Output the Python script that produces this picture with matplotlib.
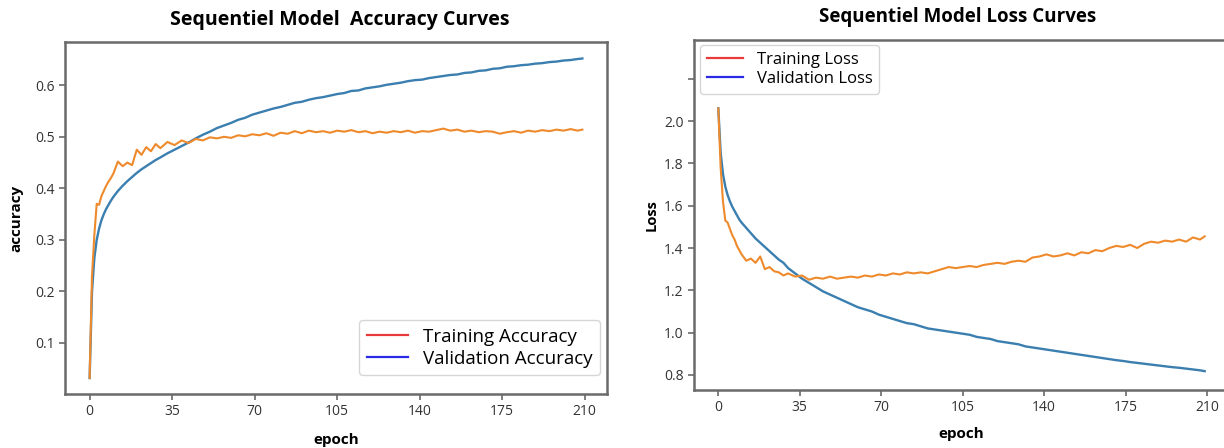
import matplotlib
matplotlib.use("Agg")
import matplotlib.pyplot as plt
from matplotlib.lines import Line2D

plt.rcParams['font.family'] = ['Open Sans', 'DejaVu Sans']

epochs = [0, 1, 2, 3, 4, 5, 6, 7, 8, 9, 10,
          12, 14, 16, 18, 20, 22, 24, 26, 28,
          30, 33, 36, 39, 42, 45, 48, 51, 54, 57, 60, 63, 66, 69, 72, 75, 78, 81, 84, 87,
          90, 93, 96, 99, 102, 105, 108, 111, 114, 117, 120, 123, 126, 129, 132, 135, 138,
          141, 144, 147, 150, 153, 156, 159, 162, 165, 168, 171, 174, 177, 180, 183, 186,
          189, 192, 195, 198, 201, 204, 207, 209]

acc_blue = [0.032, 0.20, 0.265, 0.300, 0.322, 0.338, 0.350, 0.360, 0.368, 0.376, 0.383,
            0.395, 0.405, 0.414, 0.422, 0.430, 0.437, 0.443, 0.449, 0.455,
            0.460, 0.468, 0.475, 0.482, 0.489, 0.497, 0.504, 0.510, 0.517, 0.522, 0.527,
            0.533, 0.537, 0.543, 0.547, 0.551, 0.555, 0.558, 0.562, 0.566, 0.568, 0.572,
            0.575, 0.577, 0.580, 0.583, 0.585, 0.589, 0.590, 0.594, 0.596, 0.598, 0.601,
            0.603, 0.605, 0.608, 0.610, 0.611, 0.614, 0.616, 0.618, 0.620, 0.621, 0.624,
            0.625, 0.628, 0.629, 0.632, 0.633, 0.636, 0.637, 0.639, 0.640, 0.642, 0.643,
            0.645, 0.646, 0.648, 0.649, 0.651, 0.652]

acc_orange = [0.032, 0.23, 0.31, 0.37, 0.368, 0.385, 0.395, 0.405, 0.413, 0.42, 0.428,
              0.452, 0.443, 0.450, 0.445, 0.475, 0.465, 0.480, 0.472, 0.486,
              0.478, 0.490, 0.484, 0.493, 0.488, 0.496, 0.493, 0.499, 0.497, 0.500, 0.498,
              0.503, 0.501, 0.505, 0.503, 0.507, 0.502, 0.508, 0.506, 0.511, 0.507, 0.512,
              0.509, 0.511, 0.508, 0.512, 0.510, 0.513, 0.509, 0.511, 0.507, 0.510, 0.508,
              0.511, 0.509, 0.512, 0.508, 0.511, 0.510, 0.513, 0.516, 0.512, 0.514, 0.510,
              0.512, 0.509, 0.511, 0.510, 0.506, 0.509, 0.511, 0.508, 0.512, 0.510, 0.513,
              0.511, 0.514, 0.512, 0.515, 0.512, 0.514]

loss_blue = [2.06, 1.85, 1.75, 1.69, 1.65, 1.62, 1.595, 1.575, 1.555, 1.535, 1.52,
             1.495, 1.47, 1.445, 1.425, 1.405, 1.385, 1.365, 1.345, 1.33,
             1.305, 1.28, 1.255, 1.235, 1.215, 1.195, 1.18, 1.165, 1.15, 1.135, 1.12,
             1.11, 1.10, 1.085, 1.075, 1.065, 1.055, 1.045, 1.04, 1.03, 1.02, 1.015,
             1.01, 1.005, 1.0, 0.995, 0.99, 0.98, 0.975, 0.97, 0.96, 0.955, 0.95,
             0.945, 0.935, 0.93, 0.925, 0.92, 0.915, 0.91, 0.905, 0.90, 0.895, 0.89,
             0.885, 0.88, 0.875, 0.87, 0.866, 0.861, 0.857, 0.853, 0.849, 0.845, 0.841,
             0.837, 0.834, 0.830, 0.826, 0.822, 0.818]

loss_orange = [2.06, 1.78, 1.62, 1.53, 1.52, 1.49, 1.46, 1.44, 1.41, 1.39, 1.37,
               1.34, 1.35, 1.33, 1.36, 1.30, 1.31, 1.29, 1.285, 1.27,
               1.28, 1.265, 1.27, 1.25, 1.26, 1.255, 1.265, 1.255, 1.26, 1.265, 1.26,
               1.27, 1.265, 1.275, 1.27, 1.28, 1.275, 1.285, 1.28, 1.285, 1.28, 1.29,
               1.30, 1.31, 1.305, 1.31, 1.315, 1.31, 1.32, 1.325, 1.33, 1.325, 1.335,
               1.34, 1.335, 1.355, 1.36, 1.37, 1.36, 1.365, 1.375, 1.365, 1.38, 1.375,
               1.39, 1.385, 1.40, 1.41, 1.405, 1.415, 1.40, 1.42, 1.43, 1.425, 1.435,
               1.43, 1.44, 1.43, 1.45, 1.44, 1.455]

xticks = [0, 35, 70, 105, 140, 175, 210]
acc_yticks = [0.1, 0.2, 0.3, 0.4, 0.5, 0.6]
loss_yticks = [0.8, 1.0, 1.2, 1.4, 1.6, 1.8, 2.0, 2.2]
loss_ytick_labels = ['0.8', '1.0', '1.2', '1.4', '1.6', '1.8', '2.0', '']

BLUE = '#3a7fb0'
ORANGE = '#ee8a2c'
SPINE = '#6a6a6a'

fig = plt.figure(figsize=(12.24, 4.48), dpi=100)
ax1 = fig.add_axes([65 / 1224, 1 - 394 / 448, 542 / 1224, 352 / 448])
ax2 = fig.add_axes([694 / 1224, 1 - 390 / 448, 535 / 1224, 350 / 448])


def style(ax):
    for s in ax.spines.values():
        s.set_color(SPINE)
        s.set_linewidth(1.8)
    ax.tick_params(colors=SPINE, labelcolor='#333333', labelsize=10, length=4, width=1.2)


ax1.plot(epochs, acc_blue, color=BLUE, lw=1.7)
ax1.plot(epochs, acc_orange, color=ORANGE, lw=1.5)
ax1.set_xticks(xticks)
ax1.set_yticks(acc_yticks)
ax1.set_yticklabels([f'{v:.1f}' for v in acc_yticks])
ax1.set_xlim(-10.45, 219.45)
ax1.set_ylim(0.001, 0.684)
style(ax1)
ax1.set_xlabel('epoch', fontsize=11, fontweight='bold', labelpad=10)
ax1.set_ylabel('accuracy', fontsize=11, fontweight='bold', labelpad=8)
h1 = [Line2D([], [], color='#e83a3a', lw=1.6), Line2D([], [], color='#2a2ae6', lw=1.6)]
ax1.legend(h1, ['Training Accuracy', 'Validation Accuracy'], loc='lower right',
           fontsize=13.5, bbox_to_anchor=(1 - 7 / 542, 19 / 352), borderaxespad=0,
           handlelength=2.2, labelspacing=0.2, borderpad=0.4)

ax2.plot(epochs, loss_blue, color=BLUE, lw=1.7)
ax2.plot(epochs, loss_orange, color=ORANGE, lw=1.5)
ax2.set_xticks(xticks)
ax2.set_yticks(loss_yticks)
ax2.set_yticklabels(loss_ytick_labels)
ax2.set_xlim(-10.45, 219.45)
ax2.set_ylim(0.729, 2.383)
style(ax2)
ax2.spines['right'].set_visible(False)
ax2.set_xlabel('epoch', fontsize=11, fontweight='bold', labelpad=8)
ax2.set_ylabel('Loss', fontsize=10.5, fontweight='bold', labelpad=4)
h2 = [Line2D([], [], color='#e83a3a', lw=1.6), Line2D([], [], color='#2a2ae6', lw=1.6)]
ax2.legend(h2, ['Training Loss', 'Validation Loss'], loc='upper left',
           fontsize=12, bbox_to_anchor=(6 / 535, 1 - 5 / 350), borderaxespad=0,
           handlelength=2.2, labelspacing=0.2, borderpad=0.4)

fig.text(340 / 1224, 1 - 20 / 448, 'Sequentiel Model  Accuracy Curves', ha='center',
         va='center', fontsize=14, fontweight='bold')
fig.text(958 / 1224, 1 - 17 / 448, 'Sequentiel Model Loss Curves', ha='center',
         va='center', fontsize=13.5, fontweight='bold')

fig.savefig('out.png', dpi=100)
